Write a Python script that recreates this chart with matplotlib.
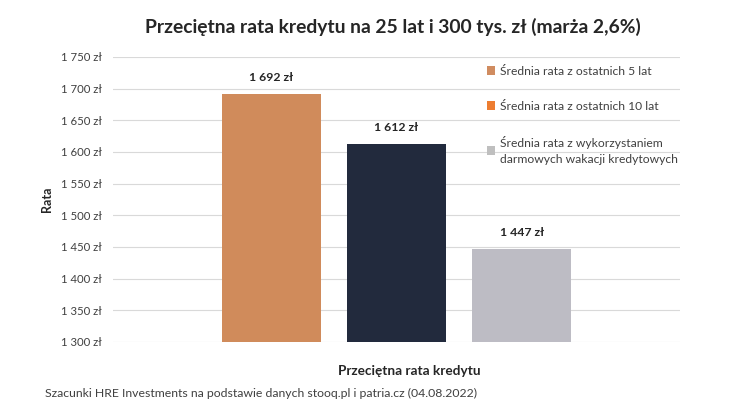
import matplotlib.pyplot as plt
from matplotlib.patches import Patch

plt.rcParams['font.family'] = ['Lato', 'DejaVu Sans']

categories = ["Średnia rata z ostatnich 5 lat",
              "Średnia rata z ostatnich 10 lat",
              "Średnia rata z wykorzystaniem\ndarmowych wakacji kredytowych"]
values = [1692, 1612, 1447]
bar_colors = ["#d08b5b", "#222a3d", "#bdbcc4"]
legend_colors = ["#d08c60", "#ed7d31", "#bfbfbf"]
yticks = list(range(1300, 1751, 50))

fig = plt.figure(figsize=(7.46, 4.08), dpi=100)
ax = fig.add_axes([0.1515, 0.1618, 0.76, 0.6985])

x = range(len(values))
bars = ax.bar(x, values, width=0.79, color=bar_colors, zorder=3)

for xi, v in zip(x, values):
    lab = "{:,}".format(v).replace(",", " ") + " zł"
    ax.annotate(lab, (xi, v), xytext=(0, 8), textcoords="offset points",
                ha="center", va="bottom", fontsize=8.8, fontweight="bold", color="#262626")

ax.set_ylim(1300, 1750)
ax.set_xlim(-1.26, 3.26)
ax.set_yticks(yticks)
ax.set_yticklabels(["{:,}".format(t).replace(",", " ") + " zł" for t in yticks],
                   fontsize=8.2, color="#404040")
ax.set_xticks([])
ax.tick_params(axis="y", length=0, pad=8)
ax.grid(axis="y", color="#d9d9d9", linewidth=0.8, zorder=0)
for s in ax.spines.values():
    s.set_visible(False)

ax.set_ylabel("Rata", fontsize=9, fontweight="bold", color="#262626", labelpad=6)
ax.set_xlabel("Przeciętna rata kredytu", fontsize=9.8, fontweight="bold", color="#262626")
ax.xaxis.set_label_coords(0.522, -0.08)

fig.text(0.527, 0.933, "Przeciętna rata kredytu na 25 lat i 300 tys. zł (marża 2,6%)",
         ha="center", va="center", fontsize=13.9, fontweight="bold", color="#262626")
fig.text(0.06, 0.035, "Szacunki HRE Investments na podstawie danych stooq.pl i patria.cz (04.08.2022)",
         ha="left", va="center", fontsize=8.8, color="#404040")

handles = [Patch(facecolor=c, edgecolor="none") for c in legend_colors]
leg = fig.legend(handles, categories, loc="upper left", bbox_to_anchor=(0.638, 0.866),
                 frameon=False, fontsize=8.7, labelspacing=2.0, handlelength=0.7,
                 handleheight=0.7, handletextpad=0.4, labelcolor="#404040")
for t in leg.get_texts():
    t.set_linespacing(1.55)

plt.savefig("out.png", dpi=100)
